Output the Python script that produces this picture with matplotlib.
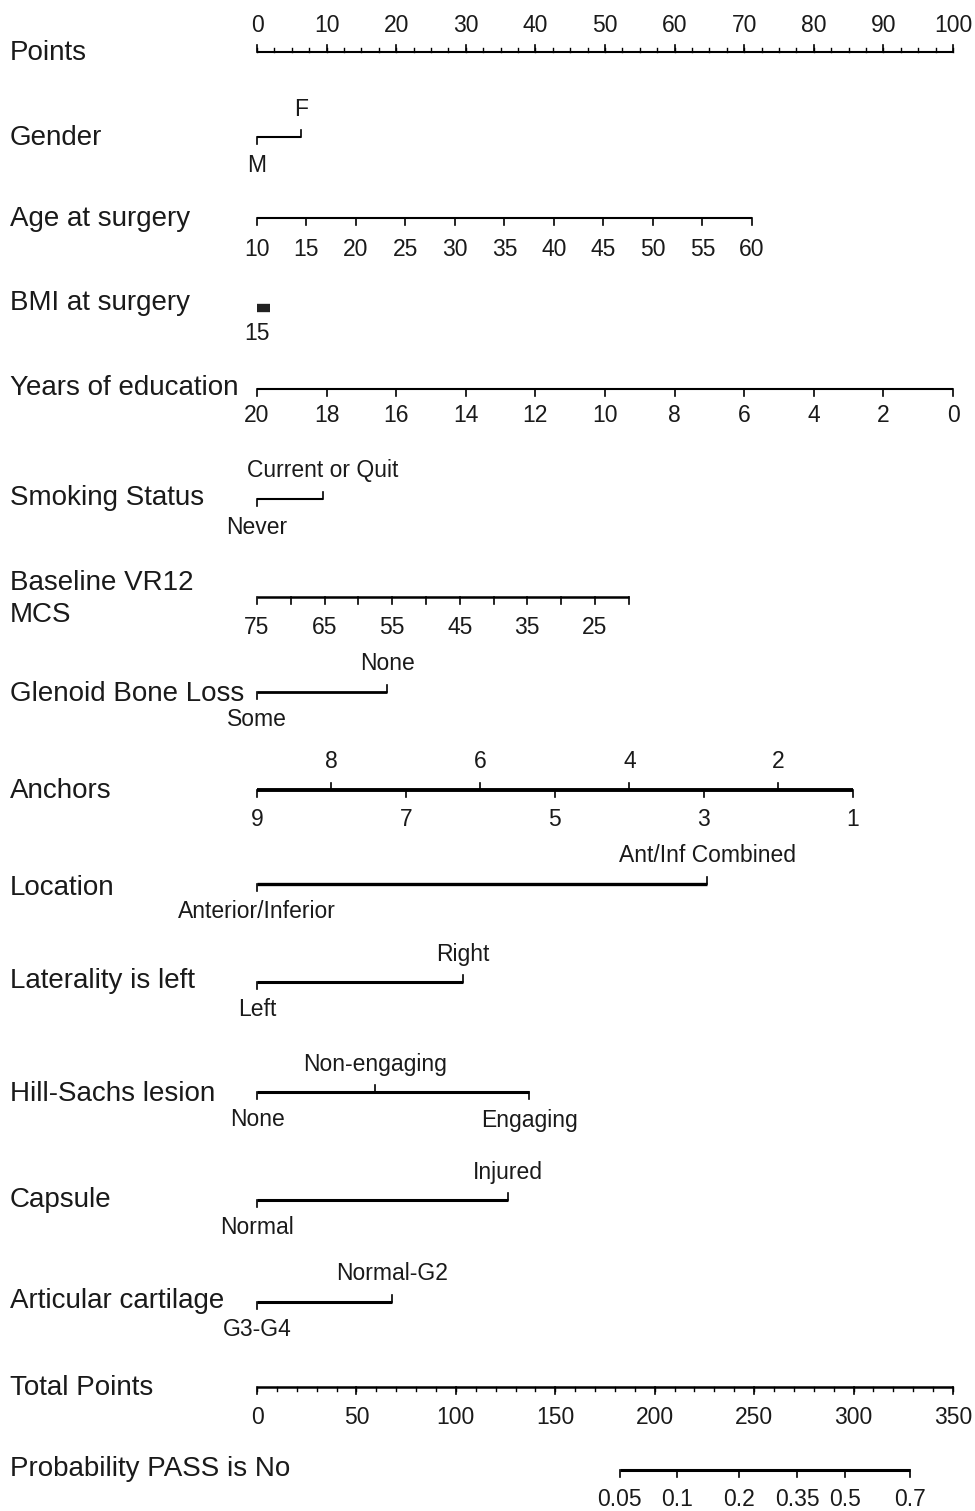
import numpy as np
import matplotlib.pyplot as plt

plt.rcParams['font.family'] = ['Liberation Sans', 'DejaVu Sans']

# ---- nomogram data (positions on the 0-100 "Points" scale) ----
points_major = list(range(0, 101, 10))
points_minor = list(np.arange(0, 100.1, 2.5))

gender_levels = ['M', 'F']
gender_pts = [0, 6.3]

age_ticks = list(range(10, 61, 5))
age_pts_range = [0, 71.1]          # age 10 -> age 60

bmi_ticks = [15, 20, 25, 30, 35, 40, 45]
bmi_labels = ['15']
bmi_pts_range = [0, 1.9]           # 15 -> 45

edu_ticks = list(range(20, -1, -2))
edu_pts_range = [0, 100]           # 20 years -> 0 years

smoke_levels = ['Never', 'Current or Quit']
smoke_pts = [0, 9.5]

mcs_ticks = list(range(75, 19, -5))
mcs_labels = [75, 65, 55, 45, 35, 25]
mcs_pts_range = [0, 53.4]          # 75 -> 20

glenoid_levels = ['Some', 'None']
glenoid_pts = [0, 18.7]

anchor_ticks = [9, 8, 7, 6, 5, 4, 3, 2, 1]
anchor_pts_range = [0, 85.6]       # 9 -> 1

location_levels = ['Anterior/Inferior', 'Ant/Inf Combined']
location_pts = [0, 64.7]

laterality_levels = ['Left', 'Right']
laterality_pts = [0, 29.6]

hillsachs_levels = ['None', 'Non-engaging', 'Engaging']
hillsachs_pts = [0, 17.0, 39.1]

capsule_levels = ['Normal', 'Injured']
capsule_pts = [0, 36.1]

cartilage_levels = ['G3-G4', 'Normal-G2']
cartilage_pts = [0, 19.4]

total_major = list(range(0, 351, 50))
total_minor = list(range(0, 351, 10))
total_max = 350

prob_labels = ['0.05', '0.1', '0.2', '0.35', '0.5', '0.7']
prob_total_pts = [182.5, 211.3, 242.3, 271.6, 295.7, 328.4]

# ---- figure: x in points units, y in pixel rows ----
W, H = 975, 1511
x0_px, x100_px = 257, 953
scale = (x100_px - x0_px) / 100.0

fig = plt.figure(figsize=(W / 100, H / 100), dpi=100)
ax = fig.add_axes([0, 0, 1, 1])
ax.set_xlim(-x0_px / scale, (W - x0_px) / scale)
ax.set_ylim(H, 0)
ax.axis('off')

LABEL_FS = 20
TICK_FS = 16.5
label_x = (10 - x0_px) / scale


def row_label(y, text):
    ax.text(label_x, y, text, ha='left', va='center', fontsize=LABEL_FS, color='#1a1a1a')


def draw_axis(y, xs, labels, sides, lw=1.5, tick_len=7, off=29, minor=None,
              minor_side='down', minor_len=4):
    ax.plot([min(xs), max(xs)], [y, y], color='black', lw=lw, solid_capstyle='butt')
    if minor is not None:
        d = -1 if minor_side == 'up' else 1
        for m in minor:
            ax.plot([m, m], [y, y + d * minor_len], color='black', lw=1.0)
    for x, lab, side in zip(xs, labels, sides):
        d = -1 if side == 'up' else 1
        ax.plot([x, x], [y, y + d * tick_len], color='black', lw=1.2)
        if lab:
            ax.text(x, y + d * off, lab, ha='center', va='center',
                    fontsize=TICK_FS, color='#1a1a1a')


def alt_sides(n):
    return ['down' if i % 2 == 0 else 'up' for i in range(n)]


# Points
row_label(53, 'Points')
draw_axis(52, points_major, [str(v) for v in points_major], ['up'] * len(points_major),
          lw=1.5, off=27, minor=points_minor, minor_side='up')

# Gender
row_label(138, 'Gender')
draw_axis(137, gender_pts, gender_levels, alt_sides(2), off=28)

# Age
row_label(219, 'Age at surgery')
age_x = np.interp(age_ticks, [10, 60], age_pts_range)
draw_axis(218, age_x, [str(v) for v in age_ticks], ['down'] * len(age_ticks), off=31)

# BMI
row_label(303, 'BMI at surgery')
bmi_x = np.interp(bmi_ticks, [15, 45], bmi_pts_range)
ax.plot([bmi_x[0], bmi_x[-1]], [308, 308], color='#222222', lw=6, solid_capstyle='butt')
ax.text(bmi_x[0], 333, bmi_labels[0], ha='center', va='center', fontsize=TICK_FS, color='#1a1a1a')

# Years of education
row_label(388, 'Years of education')
edu_x = np.interp(edu_ticks, [0, 20], edu_pts_range[::-1])
draw_axis(389, edu_x, [str(v) for v in edu_ticks], ['down'] * len(edu_ticks), off=27)

# Smoking
row_label(498, 'Smoking Status')
draw_axis(499, smoke_pts, smoke_levels, alt_sides(2), off=28)

# Baseline VR12 MCS
ax.text(label_x, 583, 'Baseline VR12', ha='left', va='center', fontsize=LABEL_FS, color='#1a1a1a')
ax.text(label_x, 615, 'MCS', ha='left', va='center', fontsize=LABEL_FS, color='#1a1a1a')
mcs_x = np.interp(mcs_ticks, [20, 75], mcs_pts_range[::-1])
draw_axis(597, mcs_x, [str(v) if v in mcs_labels else '' for v in mcs_ticks],
          ['down'] * len(mcs_ticks), lw=1.8, off=30)

# Glenoid bone loss
row_label(694, 'Glenoid Bone Loss')
draw_axis(692, glenoid_pts, glenoid_levels, alt_sides(2), lw=2.0, off=28)

# Anchors
row_label(791, 'Anchors')
anchor_x = np.interp(anchor_ticks, [1, 9], anchor_pts_range[::-1])
draw_axis(790, anchor_x, [str(v) for v in anchor_ticks], alt_sides(len(anchor_ticks)),
          lw=2.8, off=29)

# Location
row_label(888, 'Location')
draw_axis(884, location_pts, location_levels, alt_sides(2), lw=2.4, off=28)

# Laterality
row_label(981, 'Laterality is left')
draw_axis(982, laterality_pts, laterality_levels, alt_sides(2), lw=2.2, off=28)

# Hill-Sachs
row_label(1094, 'Hill-Sachs lesion')
draw_axis(1092, hillsachs_pts, hillsachs_levels, ['down', 'up', 'down'], lw=2.2, off=28)

# Capsule
row_label(1200, 'Capsule')
draw_axis(1200, capsule_pts, capsule_levels, alt_sides(2), lw=2.2, off=28)

# Articular cartilage
row_label(1301, 'Articular cartilage')
draw_axis(1302, cartilage_pts, cartilage_levels, alt_sides(2), lw=2.2, off=28)

# Total points
row_label(1388, 'Total Points')
tp = lambda v: np.asarray(v, dtype=float) * 100.0 / total_max
draw_axis(1387, tp(total_major), [str(v) for v in total_major], ['down'] * len(total_major),
          lw=1.8, off=30, minor=tp(total_minor), minor_side='down')

# Probability
row_label(1469, 'Probability PASS is No')
draw_axis(1470, tp(prob_total_pts), prob_labels, ['down'] * len(prob_labels), lw=2.2, off=30)

fig.savefig('out.png', dpi=100)
